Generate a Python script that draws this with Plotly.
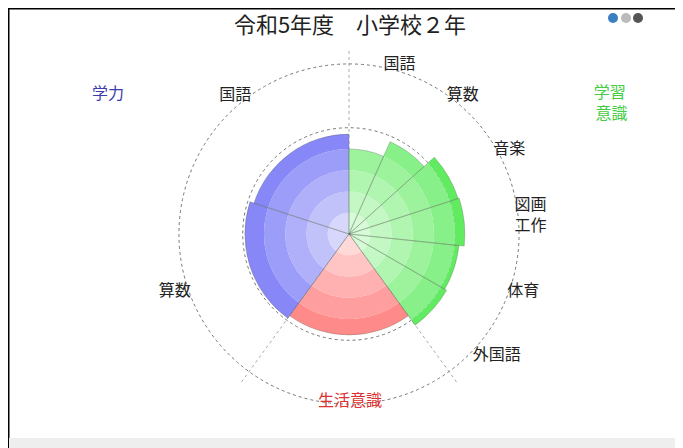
import numpy as np
import plotly.graph_objects as go

title = '令和5年度　小学校２年'

# 学習意識 (green side, clockwise from the top)
ishiki_labels = ['国語', '算数', '音楽', '図画<br>工作', '体育', '外国語']
ishiki_values = [80, 95, 108, 109, 104, 106]

# 生活意識 (red, bottom)
seikatsu_values = [95]

# 学力 (blue side)
gakuryoku_labels = ['国語', '算数']
gakuryoku_values = [94, 98]

# bands of the radial "gradient"; 100 = reference circle
band_edges = [0, 20, 40, 60, 80, 100, 200]
band_white = [0.75, 0.62, 0.5, 0.38, 0.25, 0.0]
base_rgb = {'blue': (95, 95, 245), 'red': (255, 99, 99), 'green': (96, 235, 96)}

# layout of the wedges: green 0-144, red 144-216, blue 216-360
n = len(ishiki_values)
w_g = 144 / n
theta = [w_g / 2 + w_g * i for i in range(n)] + [180, 252, 324]
width = [w_g] * n + [72, 72, 72]
vals = np.array(ishiki_values + seikatsu_values + gakuryoku_values[::-1], dtype=float)
group = ['green'] * n + ['red'] + ['blue'] * 2

W, H, OFF = 683, 448, 8  # page body has an 8px margin


def px(x):
    return (x - OFF) / W


def py(y):
    return 1 - (y - OFF) / H


def mix(rgb, a):
    r, g, b = [int(round(c * (1 - a) + 255 * a)) for c in rgb]
    return f'rgb({r},{g},{b})'


fig = go.Figure()

# empty trace so the grid subplot gets drawn
fig.add_trace(go.Scatterpolar(r=[0], theta=[0], mode='markers', marker=dict(opacity=0),
                              subplot='polar', showlegend=False, hoverinfo='skip'))

for k in range(len(band_white)):
    lo, hi = band_edges[k], band_edges[k + 1]
    r = np.clip(vals - lo, 0, hi - lo)
    fig.add_trace(go.Barpolar(
        r=r, base=[lo] * len(r), theta=theta, width=width,
        marker=dict(color=[mix(base_rgb[g], band_white[k]) for g in group],
                    line=dict(width=0)),
        subplot='polar2', showlegend=False, hoverinfo='skip'))

# thin outlines between wedges
fig.add_trace(go.Barpolar(
    r=vals, theta=theta, width=width,
    marker=dict(color='rgba(0,0,0,0)', line=dict(color='rgba(80,100,80,0.3)', width=1)),
    subplot='polar2', showlegend=False, hoverinfo='skip'))

cx, cy = 349, 234
unit = 186 / 175          # px per value unit
rad_grid, rad_bars = 186, 166


def domain(rad):
    return dict(x=[px(cx - rad), px(cx + rad)], y=[py(cy + rad), py(cy - rad)])


font = 'Noto Sans CJK JP'

fig.update_layout(
    width=W, height=H,
    margin=dict(l=0, r=0, t=0, b=0),
    paper_bgcolor='white',
    font=dict(family=font, color='#222'),
    title=dict(text=title, x=px(350), xanchor='center', y=py(25), yanchor='middle',
               font=dict(size=22, color='#222', family=font)),
    polar=dict(
        domain=domain(rad_grid), bgcolor='white',
        radialaxis=dict(range=[0, rad_grid / unit], tickvals=[100, 160], showticklabels=False,
                        ticks='', showline=False, gridcolor='#777', griddash='dot', gridwidth=1),
        angularaxis=dict(rotation=90, direction='clockwise', tickvals=[0, 144, 216],
                         showticklabels=False, ticks='', showline=False,
                         gridcolor='#aaa', griddash='dot', gridwidth=1),
    ),
    polar2=dict(
        domain=domain(rad_bars), bgcolor='rgba(0,0,0,0)', barmode='overlay',
        radialaxis=dict(range=[0, rad_bars / unit], visible=False),
        angularaxis=dict(rotation=90, direction='clockwise',
                         tickvals=theta[:n] + theta[n + 1:],
                         ticktext=ishiki_labels + gakuryoku_labels[::-1],
                         showgrid=False, showline=False, ticks='',
                         tickfont=dict(size=16, color='#222', family=font)),
    ),
    annotations=[
        dict(text='学力', x=px(90), y=py(78), xref='paper', yref='paper',
             showarrow=False, font=dict(size=16, color='#3c3cb0', family=font)),
        dict(text='学習<br> 意識', x=px(630), y=py(77), xref='paper', yref='paper',
             showarrow=False, font=dict(size=16, color='#44cc44', family=font)),
        dict(text='生活意識', x=px(350), y=py(413), xref='paper', yref='paper',
             showarrow=False, font=dict(size=16, color='#dd3030', family=font)),
    ],
    shapes=[
        dict(type='line', xref='paper', yref='paper', x0=0, x1=1, y0=1, y1=1,
             line=dict(color='black', width=3)),
        dict(type='line', xref='paper', yref='paper', x0=0, x1=0, y0=1, y1=0,
             line=dict(color='black', width=3)),
        dict(type='rect', xref='paper', yref='paper', x0=px(9), x1=1, y0=py(448), y1=py(438),
             fillcolor='#eeeeee', line=dict(width=0)),
        dict(type='circle', xref='paper', yref='paper', x0=px(608), x1=px(618),
             y0=py(23), y1=py(13), fillcolor='#3a7fc0', line=dict(width=0)),
        dict(type='circle', xref='paper', yref='paper', x0=px(621), x1=px(631),
             y0=py(23), y1=py(13), fillcolor='#bbbbbb', line=dict(width=0)),
        dict(type='circle', xref='paper', yref='paper', x0=px(633), x1=px(643),
             y0=py(23), y1=py(13), fillcolor='#555555', line=dict(width=0)),
    ],
)

fig.write_html("out.html")
